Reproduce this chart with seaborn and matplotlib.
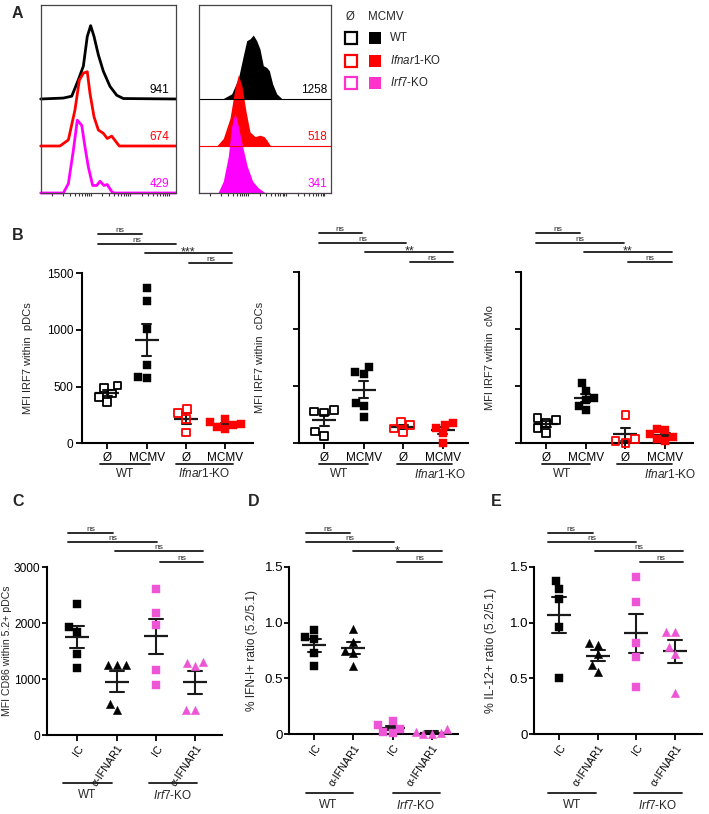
import numpy as np
import pandas as pd
import matplotlib
matplotlib.use("Agg")
import matplotlib.pyplot as plt
import seaborn as sns

sns.set_theme(style="ticks")
plt.rcParams["font.family"] = ["Liberation Sans", "DejaVu Sans"]
plt.rcParams["mathtext.fontset"] = "custom"
plt.rcParams["mathtext.rm"] = "Liberation Sans"
plt.rcParams["mathtext.it"] = "Liberation Sans:italic"

# ---------------- DATA ----------------
# Panel A: histogram outlines, x in % of axis width, height in band units
a_naive_wt_x = [0, 16.8, 23, 27.9, 31.6, 34.5, 37, 39.5, 42.7, 46.4, 51.3, 56.3, 61.2, 100]
a_naive_wt_h = [0, 0.02, 0.06, 0.41, 0.70, 1.33, 1.56, 1.33, 0.94, 0.59, 0.27, 0.08, 0.01, 0]
a_naive_ifnar_x = [0, 14.3, 20.5, 25.4, 28.6, 31.6, 34.5, 36.5, 39.5, 42.7, 46.4, 49.3, 52.6, 55.8, 58.2, 100]
a_naive_ifnar_h = [0, 0, 0.13, 0.77, 1.40, 1.55, 1.58, 1.12, 0.62, 0.34, 0.27, 0.16, 0.21, 0.09, 0, 0]
a_naive_irf7_x = [0, 16.8, 20.5, 24.2, 27.1, 30.4, 32.8, 35.3, 38.5, 41.5, 43.9, 46.9, 49.3, 52.6, 54.3, 100]
a_naive_irf7_h = [0, 0, 0.2, 0.91, 1.55, 1.44, 0.98, 0.55, 0.16, 0.16, 0.25, 0.16, 0.18, 0.03, 0, 0]
a_mcmv_wt_x = [0, 18.2, 24.6, 29.6, 33.4, 36, 38.5, 41, 43.6, 46.1, 48.6, 51.2, 53.2, 55.7, 58.8, 62.6, 65, 100]
a_mcmv_wt_h = [0, 0.01, 0.11, 0.43, 0.92, 1.24, 1.28, 1.36, 1.24, 1.06, 0.71, 0.67, 0.6, 0.32, 0.11, 0.01, 0, 0]
a_mcmv_ifnar_x = [0, 13.2, 18.2, 23.3, 27.1, 29.6, 32.2, 35.5, 38.5, 42.3, 46.1, 49.2, 51.2, 53.7, 55.5, 100]
a_mcmv_ifnar_h = [0, 0, 0.16, 0.59, 1.23, 1.51, 1.30, 0.73, 0.30, 0.2, 0.23, 0.2, 0.13, 0.02, 0, 0]
a_mcmv_irf7_x = [0, 14.1, 18.2, 22, 24.6, 27.1, 29.6, 32.9, 36.4, 40.5, 44.8, 49.8, 52, 100]
a_mcmv_irf7_h = [0, 0, 0.25, 0.78, 1.42, 1.70, 1.42, 0.99, 0.57, 0.25, 0.11, 0.01, 0, 0]
a_naive_mfi = ["941", "674", "429"]
a_mcmv_mfi = ["1258", "518", "341"]
a_genotypes = ["WT", r"$\mathit{Ifnar1}$-KO", r"$\mathit{Irf7}$-KO"]

# Panel B
b_groups = ["WT_naive", "WT_MCMV", "KO_naive", "KO_MCMV"]
b_ticklabels = ["Ø", "MCMV", "Ø", "MCMV"]
pdc_wt_naive = [510, 490, 440, 410, 365]
pdc_wt_mcmv = [1368, 1258, 1006, 688, 588, 573]
pdc_ko_naive = [300, 265, 215, 95]
pdc_ko_mcmv = [215, 190, 170, 160, 145, 130]
cdc_wt_naive = [294, 279, 271, 103, 65]
cdc_wt_mcmv = [671, 629, 612, 353, 329, 235]
cdc_ko_naive = [190, 160, 130, 100]
cdc_ko_mcmv = [175, 160, 135, 90, 5]
cmo_wt_naive = [225, 205, 180, 135, 90]
cmo_wt_mcmv = [525, 460, 400, 380, 330, 290]
cmo_ko_naive = [250, 35, 20, 5]
cmo_ko_mcmv = [125, 120, 80, 55, 35, 20]

# Panels C-E
cde_groups = ["WT_IC", "WT_ab", "KO_IC", "KO_ab"]
cde_ticklabels = ["IC", "α-IFNAR1", "IC", "α-IFNAR1"]
cd86_wt_ic = [2350, 1930, 1850, 1450, 1200]
cd86_wt_ab = [1255, 1250, 1250, 560, 450]
cd86_ko_ic = [2610, 2180, 1970, 1170, 890]
cd86_ko_ab = [1310, 1280, 1235, 450, 445]
ifn_wt_ic = [0.93, 0.87, 0.85, 0.73, 0.61]
ifn_wt_ab = [0.94, 0.83, 0.75, 0.73, 0.61]
ifn_ko_ic = [0.12, 0.08, 0.05, 0.02, 0.01]
ifn_ko_ab = [0.05, 0.02, 0.01, 0.0, 0.0]
il12_wt_ic = [1.375, 1.30, 1.21, 0.96, 0.50]
il12_wt_ab = [0.82, 0.80, 0.72, 0.62, 0.56]
il12_ko_ic = [1.405, 1.18, 0.82, 0.69, 0.426]
il12_ko_ab = [0.92, 0.92, 0.78, 0.72, 0.37]

# significance annotations: (x0, x1, y, text)
sig_pdc = [(-0.23, 0.87, 1844, "ns"), (-0.23, 1.74, 1761, "ns"), (0.95, 3.17, 1682, "***"), (2.07, 3.17, 1588, "ns")]
sig_cdc = [(-0.14, 0.95, 1844, "ns"), (-0.14, 2.08, 1761, "ns"), (1.04, 3.27, 1682, "**"), (2.18, 3.27, 1588, "ns")]
sig_cmo = [(-0.25, 0.86, 1844, "ns"), (-0.25, 1.96, 1761, "ns"), (0.96, 3.17, 1682, "**"), (2.07, 3.17, 1588, "ns")]
sig_cd86 = [(-0.23, 0.90, 3619, "ns"), (-0.23, 2.02, 3458, "ns"), (0.96, 3.2, 3292, "ns"), (2.1, 3.2, 3100, "ns")]
sig_ifn = [(-0.21, 0.91, 1.803, "ns"), (-0.21, 2.04, 1.717, "ns"), (1.0, 3.26, 1.64, "*"), (2.12, 3.26, 1.538, "ns")]
sig_il12 = [(-0.28, 0.87, 1.803, "ns"), (-0.28, 1.99, 1.717, "ns"), (0.93, 3.2, 1.64, "ns"), (2.09, 3.2, 1.538, "ns")]

BLACK = "black"
RED = "#ff0000"
MAG = "#ff00ff"
MAG2 = "#ee55d6"

# ---------------- FIGURE ----------------
W, H = 709, 814
fig = plt.figure(figsize=(W / 100, H / 100), dpi=100)
fig.patch.set_facecolor("white")


def add_ax(l, t, r, b):
    return fig.add_axes([l / W, 1 - b / H, (r - l) / W, (b - t) / H])


# ---- Panel A ----
def hist_ticks(ax):
    ticks = []
    for d in [8, 37, 66]:
        for k in range(1, 10):
            ticks.append(d + 29 * np.log10(k))
    ticks.append(95)
    ax.set_xticks(ticks)
    ax.set_xticklabels([])
    ax.tick_params(axis="x", length=2.5, width=0.8, color="#333333", pad=1)
    ax.set_yticks([])
    for s in ax.spines.values():
        s.set_color("#444444")
        s.set_linewidth(0.9)
    ax.set_xlim(0, 100)
    ax.set_ylim(0, 4)


axA1 = add_ax(40.7, 5, 175.7, 193)
colsA = [BLACK, RED, MAG]
bases = [2, 1, 0]
for xs, hs, c, b in [(a_naive_wt_x, a_naive_wt_h, BLACK, 2),
                     (a_naive_ifnar_x, a_naive_ifnar_h, RED, 1),
                     (a_naive_irf7_x, a_naive_irf7_h, MAG, 0)]:
    axA1.plot(xs, np.array(hs) + b, color=c, lw=2.0, clip_on=False, solid_joinstyle="round")
hist_ticks(axA1)
for txt, c, b in zip(a_naive_mfi, colsA, bases):
    axA1.text(95.5, b + 0.2, txt, color=c, ha="right", va="center", fontsize=8.5)

axA2 = add_ax(199.3, 5, 331, 193)
for xs, hs, c, b in [(a_mcmv_wt_x, a_mcmv_wt_h, BLACK, 2),
                     (a_mcmv_ifnar_x, a_mcmv_ifnar_h, RED, 1),
                     (a_mcmv_irf7_x, a_mcmv_irf7_h, MAG, 0)]:
    axA2.fill_between(xs, b, np.array(hs) + b, color=c, lw=0)
    axA2.plot([0, 100], [b, b], color=c, lw=0.8)
hist_ticks(axA2)
for txt, c, b in zip(a_mcmv_mfi, colsA, bases):
    axA2.text(97, b + 0.2, txt, color=c, ha="right", va="center", fontsize=8.5)


# ---- scatter panels ----
def scatter_panel(ax, groups, values, styles, ms, cap, ylim, yticks, show_ylabels,
                  xlim, ticklabels, rot, ylabel, ylabel_x, ylabel_fs, sig, grp, grp_y, tickfs):
    df = pd.DataFrame({"g": np.repeat(groups, [len(v) for v in values]),
                       "v": np.concatenate([np.asarray(v, float) for v in values])})
    for g, (marker, color, filled) in zip(groups, styles):
        sub = df[df.g == g]
        n0 = len(ax.collections)
        sns.swarmplot(data=sub, x="g", y="v", order=groups, marker=marker, size=ms,
                      color=color, ax=ax)
        for coll in list(ax.collections[n0:]):
            if len(coll.get_offsets()) == 0:
                coll.remove()
                continue
            coll.set_clip_on(False)
            if not filled:
                coll.set_facecolor("none")
                coll.set_edgecolor(color)
                coll.set_linewidth(1.3)
            else:
                coll.set_edgecolor(color)
                coll.set_linewidth(0.3)
    sns.pointplot(data=df, x="g", y="v", order=groups, errorbar="se", color="k",
                  marker="_", markersize=17, markeredgewidth=1.6, linestyle="none",
                  capsize=cap, err_kws={"linewidth": 1.5}, ax=ax)
    for ln in ax.lines:
        ln.set_clip_on(False)
    ax.set_xlim(*xlim)
    ax.set_ylim(*ylim)
    ax.set_yticks(yticks)
    if show_ylabels is None:
        ax.set_yticklabels([])
    else:
        ax.set_yticklabels(show_ylabels, fontsize=tickfs)
    ax.set_xticks(range(len(groups)))
    if rot:
        ax.set_xticklabels(ticklabels, rotation=56, ha="right", rotation_mode="anchor", fontsize=7.7)
    else:
        ax.set_xticklabels(ticklabels, fontsize=8.5)
    ax.set_xlabel("")
    ax.set_ylabel(ylabel, fontsize=ylabel_fs)
    ax.yaxis.set_label_coords(ylabel_x, 0.5)
    sns.despine(ax=ax)
    for s in ["left", "bottom"]:
        ax.spines[s].set_linewidth(1.5)
        ax.spines[s].set_color("black")
    ax.tick_params(axis="both", length=4, width=1.3, color="black", pad=2, labelcolor="black")
    if rot:
        ax.tick_params(axis="y", length=3.5, pad=1)
    ax.grid(False)
    # significance bars
    for x0, x1, y, t in sig:
        ax.plot([x0, x1], [y, y], color="k", lw=1.3, clip_on=False)
        if "*" in t:
            ax.text((x0 + x1) / 2, y, t, ha="center", va="center", fontsize=9, clip_on=False)
        else:
            ax.text((x0 + x1) / 2, y, t, ha="center", va="bottom", fontsize=6, clip_on=False)
    # group labels
    tr = ax.get_xaxis_transform()
    ly, ty = grp_y
    for x0, x1, xt, lab in grp:
        ax.plot([x0, x1], [ly, ly], color="k", lw=1.3, transform=tr, clip_on=False)
        ax.text(xt, ty, lab, ha="center", va="center", fontsize=8.5, transform=tr)


b_styles = [("s", BLACK, False), ("s", BLACK, True), ("s", RED, False), ("s", RED, True)]
b_yt = [0, 500, 1000, 1500]
b_grp_y = (-0.122, -0.18)

axB1 = add_ax(81.7, 273.3, 253, 443.3)
scatter_panel(axB1, b_groups, [pdc_wt_naive, pdc_wt_mcmv, pdc_ko_naive, pdc_ko_mcmv], b_styles,
              5.6, 0.23, (0, 1500), b_yt, ["0", "500", "1000", "1500"], (-0.65, 3.7), b_ticklabels,
              False, "MFI IRF7 within  pDCs", -0.283, 8, sig_pdc,
              [(-0.19, 1.08, 0.45, "WT"), (1.75, 3.18, 2.47, a_genotypes[1])], b_grp_y, 8.5)

axB2 = add_ax(299.3, 272.3, 468.3, 443.3)
scatter_panel(axB2, b_groups, [cdc_wt_naive, cdc_wt_mcmv, cdc_ko_naive, cdc_ko_mcmv], b_styles,
              5.6, 0.23, (0, 1500), b_yt, None, (-0.63, 3.65), b_ticklabels,
              False, "MFI IRF7 within  cDCs", -0.203, 8, sig_cdc,
              [(-0.14, 1.12, 0.39, "WT"), (1.84, 3.24, 2.94, a_genotypes[1])], b_grp_y, 8.5)

axB3 = add_ax(521, 272.3, 693.3, 443.3)
scatter_panel(axB3, b_groups, [cmo_wt_naive, cmo_wt_mcmv, cmo_ko_naive, cmo_ko_mcmv], b_styles,
              5.6, 0.23, (0, 1500), b_yt, None, (-0.63, 3.71), b_ticklabels,
              False, "MFI IRF7 within  cMo", -0.151, 8, sig_cmo,
              [(-0.11, 1.11, 0.40, "WT"), (1.78, 3.17, 3.12, a_genotypes[1])], b_grp_y, 8.5)

cde_styles = [("s", BLACK, True), ("^", BLACK, True), ("s", MAG2, True), ("^", MAG2, True)]
irf_lab = r"$\mathit{Irf7}$-KO"

axC = add_ax(46.7, 567.3, 221.7, 735)
scatter_panel(axC, cde_groups, [cd86_wt_ic, cd86_wt_ab, cd86_ko_ic, cd86_ko_ab], cde_styles,
              6.0, 0.36, (0, 3000), [0, 1000, 2000, 3000], ["0", "1000", "2000", "3000"],
              (-0.78, 3.67), cde_ticklabels, True, "MFI CD86 within 5.2+ pDCs", -0.2, 7.6, sig_cd86,
              [(-0.36, 0.87, 0.25, "WT"), (1.81, 3.04, 2.42, irf_lab)], (-0.288, -0.358), 8.6)

axD = add_ax(289.3, 566.7, 458.3, 734.3)
scatter_panel(axD, cde_groups, [ifn_wt_ic, ifn_wt_ab, ifn_ko_ic, ifn_ko_ab], cde_styles,
              6.0, 0.33, (0, 1.5), [0, 0.5, 1.0, 1.5], ["0", "0.5", "1.0", "1.5"],
              (-0.64, 3.68), cde_ticklabels, True, "% IFN-I+ ratio (5.2/5.1)", -0.183, 8.6, sig_ifn,
              [(-0.21, 0.99, 0.36, "WT"), (2.0, 3.2, 2.6, irf_lab)], (-0.352, -0.422), 9.5)

axE = add_ax(534.3, 566.7, 701.7, 734.3)
scatter_panel(axE, cde_groups, [il12_wt_ic, il12_wt_ab, il12_ko_ic, il12_ko_ab], cde_styles,
              6.0, 0.36, (0, 1.5), [0, 0.5, 1.0, 1.5], ["0", "0.5", "1.0", "1.5"],
              (-0.64, 3.69), cde_ticklabels, True, "% IL-12+ ratio (5.2/5.1)", -0.225, 8.8, sig_il12,
              [(-0.28, 0.95, 0.34, "WT"), (1.94, 3.17, 2.56, irf_lab)], (-0.352, -0.422), 9.5)

# ---- overlay: legend of A and panel letters ----
ov = fig.add_axes([0, 0, 1, 1])
ov.set_xlim(0, W)
ov.set_ylim(H, 0)
ov.axis("off")
ov.text(350, 17, "Ø", ha="center", va="center", fontsize=8.3)
ov.text(368, 17, "MCMV", ha="left", va="center", fontsize=8.3)
leg_colors = [BLACK, RED, "#ff33cc"]
for i, (lab, c) in enumerate(zip(a_genotypes, leg_colors)):
    y = 38 + 22.5 * i
    ov.plot([351], [y], marker="s", ms=8.2, mfc="none", mec=c, mew=1.6, ls="none")
    ov.plot([375], [y], marker="s", ms=9.2, mfc=c, mec=c, mew=0, ls="none")
    ov.text(390, y, lab, ha="left", va="center", fontsize=8.3)

for letter, x, y in [("A", 12, 13), ("B", 12, 235), ("C", 12, 502), ("D", 248, 502), ("E", 491, 502)]:
    ov.text(x, y, letter, ha="left", va="center", fontsize=11.5, fontweight="bold")

fig.savefig("out.png", dpi=100)
